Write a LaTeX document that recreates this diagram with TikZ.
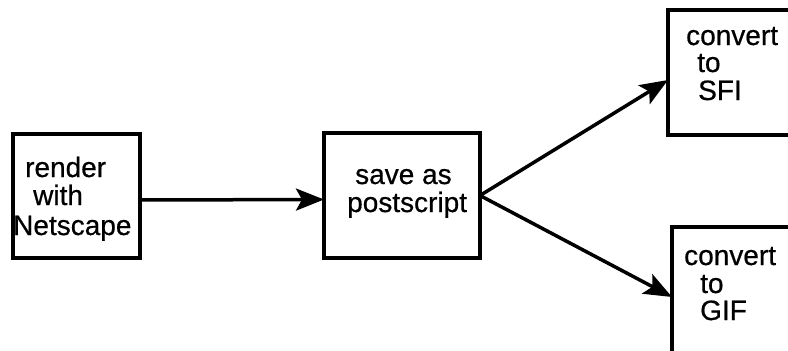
\documentclass[tikz,border=0pt]{standalone}
\usepackage{fontspec}
\setmainfont{Liberation Sans}
\newfontfamily\labelfont[FakeBold=0.6]{Liberation Sans}
\usetikzlibrary{arrows.meta}
\begin{document}
\begin{tikzpicture}[x=1pt,y=-1pt,
  procbox/.style={draw, line width=3.2pt, inner sep=0pt, outer sep=0pt, anchor=north west},
  lbl/.style={anchor=base west, inner sep=0pt, font=\labelfont\fontsize{28}{30}\selectfont},
  flow/.style={line width=3.5pt, -{Stealth[length=28pt,width=22pt,inset=6pt]}}]
\useasboundingbox (0,0) rectangle (788,351);
\clip (0,0) rectangle (788,351);

% process boxes
\node[procbox, minimum width=127pt, minimum height=124pt] (render) at (13,134) {};
\node[procbox, minimum width=156pt, minimum height=125pt] (save) at (324,133) {};
\node[procbox, minimum width=162pt, minimum height=125pt] (sfi) at (668,10) {};
\node[procbox, minimum width=162pt, minimum height=150pt] (gif) at (672,227) {};

% box labels
\node[lbl] (t1) at (25,177) {render};
\node[lbl] (t2) at (33,205) {with};
\node[lbl] (t3) at (13,235) {Netscape};
\node[lbl] (t4) at (355,184) {save as};
\node[lbl] (t5) at (347,212) {postscript};
\node[lbl] (t6) at (686,45) {convert};
\node[lbl] (t7) at (697,72) {to};
\node[lbl] (t8) at (698,100) {SFI};
\node[lbl] (t9) at (684,265) {convert};
\node[lbl] (t10) at (700,293) {to};
\node[lbl] (t11) at (700,320) {GIF};

% connectors
\draw[flow] ([yshift=-4pt]render.east) -- ([yshift=-4pt]save.west);
\draw[flow] (save.east) -- ([yshift=-7.5pt]sfi.west);
\draw[flow] (save.east) -- ([yshift=5pt]gif.west);
\end{tikzpicture}
\end{document}
